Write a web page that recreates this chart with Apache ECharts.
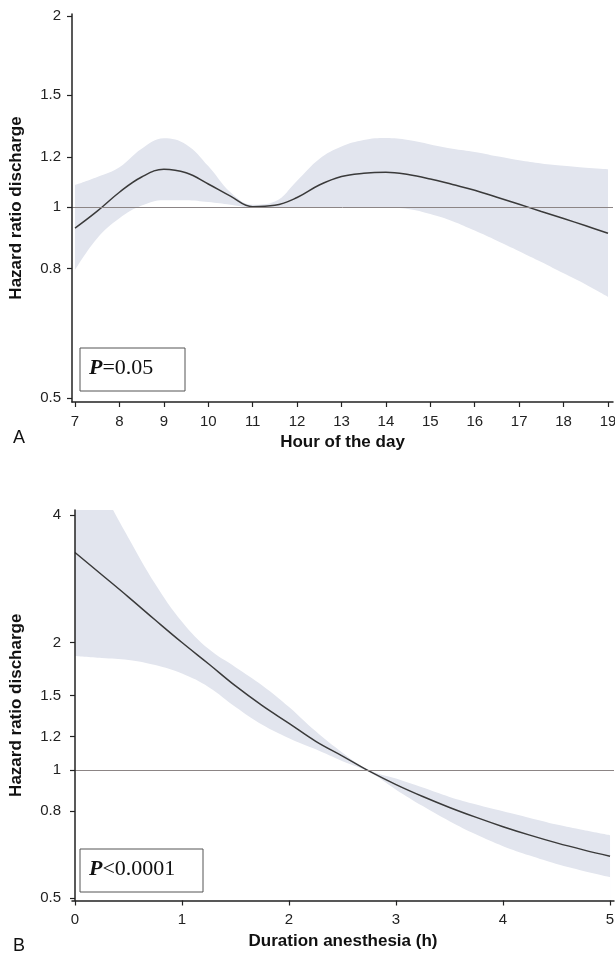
<!DOCTYPE html>
<html>
<head>
<meta charset="utf-8">
<script src="https://cdn.jsdelivr.net/npm/echarts@6/dist/echarts.min.js"></script>
<style>html,body{margin:0;padding:0;background:#fff}#chart{width:615px;height:957px}</style>
</head>
<body>
<div id="chart"></div>
<script>
// panel A - hour of the day
let hoursA = [7, 7.5, 8, 8.5, 9, 9.5, 10, 10.5, 11, 11.5, 12, 12.5, 13, 13.5, 14, 14.5, 15, 15.5, 16, 16.5, 17, 17.5, 18, 18.5, 19]
let hrA = [0.926, 0.985, 1.055, 1.115, 1.147, 1.132, 1.087, 1.04, 1.001, 1.006, 1.035, 1.083, 1.117, 1.13, 1.134, 1.125, 1.107, 1.085, 1.063, 1.036, 1.01, 0.984, 0.959, 0.934, 0.909]
let upA = [1.083, 1.115, 1.155, 1.235, 1.283, 1.255, 1.16, 1.055, 1.008, 1.02, 1.10, 1.19, 1.245, 1.275, 1.284, 1.275, 1.255, 1.235, 1.221, 1.202, 1.185, 1.171, 1.161, 1.153, 1.147]
let loA = [0.796, 0.893, 0.96, 1.005, 1.025, 1.025, 1.018, 1.008, 0.998, 0.999, 1.0, 1.0, 1.0, 0.999, 0.998, 0.993, 0.975, 0.95, 0.918, 0.885, 0.852, 0.819, 0.786, 0.755, 0.722]
// panel B - duration of anesthesia
let durB = [0, 0.25, 0.5, 0.75, 1, 1.25, 1.5, 1.75, 2, 2.25, 2.5, 2.75, 3, 3.25, 3.5, 3.75, 4, 4.25, 4.5, 4.75, 5]
let hrB = [3.26, 2.89, 2.56, 2.26, 2.0, 1.78, 1.58, 1.42, 1.29, 1.17, 1.08, 0.995, 0.925, 0.867, 0.817, 0.774, 0.736, 0.703, 0.674, 0.649, 0.627]
let upB = [6.0, 4.6, 3.53, 2.75, 2.24, 1.93, 1.75, 1.585, 1.41, 1.235, 1.10, 1.0, 0.956, 0.91, 0.865, 0.83, 0.80, 0.772, 0.745, 0.723, 0.703]
let loB = [1.86, 1.84, 1.82, 1.77, 1.69, 1.57, 1.41, 1.28, 1.19, 1.12, 1.05, 0.99, 0.90, 0.823, 0.758, 0.705, 0.662, 0.629, 0.601, 0.579, 0.56]

let yTicksA = [0.5, 0.8, 1, 1.2, 1.5, 2]
let yTicksB = [0.5, 0.8, 1, 1.2, 1.5, 2, 4]
let xTicksA = [7, 8, 9, 10, 11, 12, 13, 14, 15, 16, 17, 18, 19]
let xTicksB = [0, 1, 2, 3, 4, 5]

let bandColor = '#e2e5ee'
let axisColor = '#222'
let sans = 'Liberation Sans'

let pairs = (xs, ys) => xs.map((x, i) => [x, ys[i]])

function xAxisOf(grid, min, max, ticks, name) {
  return {
    type: 'value', gridIndex: grid, min: min, max: max,
    name: name, nameLocation: 'middle', nameGap: 32,
    nameTextStyle: {fontFamily: sans, fontWeight: 'bold', fontSize: 17, color: '#111'},
    axisLine: {show: true, onZero: false, lineStyle: {color: axisColor, width: 1.5}},
    axisTick: {show: true, length: 5, customValues: ticks, lineStyle: {color: axisColor, width: 1.2}},
    axisLabel: {customValues: ticks, margin: 12, fontFamily: sans, fontSize: 15, color: '#222'},
    splitLine: {show: false}, z: 5
  }
}

function yAxisOf(grid, min, max, ticks) {
  return {
    type: 'log', logBase: 2, gridIndex: grid, min: min, max: max,
    name: 'Hazard ratio discharge', nameLocation: 'middle', nameGap: 47, nameRotate: 90,
    nameTextStyle: {fontFamily: sans, fontWeight: 'bold', fontSize: 17, color: '#111'},
    axisLine: {show: true, lineStyle: {color: axisColor, width: 1.5}},
    axisTick: {show: true, length: 5, customValues: ticks, lineStyle: {color: axisColor, width: 1.2}},
    axisLabel: {customValues: ticks, margin: 11, fontFamily: sans, fontSize: 15, color: '#222',
      formatter: v => String(+(+v).toFixed(2))},
    splitLine: {show: false}, minorTick: {show: false}, z: 5
  }
}

function panelSeries(idx, xs, hr, up, lo) {
  return [
    {type: 'line', xAxisIndex: idx, yAxisIndex: idx, data: pairs(xs, up), smooth: 0.4, symbol: 'none',
      lineStyle: {width: 0}, areaStyle: {color: bandColor, opacity: 1, origin: 'start'}, z: 1, silent: true},
    {type: 'line', xAxisIndex: idx, yAxisIndex: idx, data: pairs(xs, lo), smooth: 0.4, symbol: 'none',
      lineStyle: {width: 0}, areaStyle: {color: '#fff', opacity: 1, origin: 'start'}, z: 2, silent: true},
    {type: 'line', xAxisIndex: idx, yAxisIndex: idx, data: pairs(xs, hr), smooth: 0.4, symbol: 'none',
      lineStyle: {color: '#3a3a3a', width: 1.5}, z: 3, silent: true,
      markLine: {silent: true, symbol: 'none', label: {show: false},
        lineStyle: {color: '#8c8585', width: 1, type: 'solid'}, data: [{yAxis: 1}]}}
  ]
}

let myChart = echarts.init(document.getElementById('chart'), null, {renderer: 'canvas'})
let pRich = {
  p: {fontFamily: 'Liberation Serif', fontStyle: 'italic', fontWeight: 'bold', fontSize: 22, fill: '#111'},
  n: {fontFamily: 'Liberation Serif', fontSize: 22, fill: '#111'}
}
let option = {
  animation: false,
  backgroundColor: '#fff',
  grid: [
    {left: 72, right: 2, top: 14, height: 388, containLabel: false, outerBoundsMode: 'none'},
    {left: 72, right: 1, top: 510, height: 390.5, containLabel: false, outerBoundsMode: 'none'}
  ],
  xAxis: [
    xAxisOf(0, 6.932, 19.113, xTicksA, 'Hour of the day'),
    xAxisOf(1, -0.028, 5.037, xTicksB, 'Duration anesthesia (h)')
  ],
  yAxis: [
    yAxisOf(0, 0.4928, 2.0145, yTicksA),
    yAxisOf(1, 0.493, 4.107, yTicksB)
  ],
  series: [].concat(panelSeries(0, hoursA, hrA, upA, loA), panelSeries(1, durB, hrB, upB, loB)),
  graphic: [
    {type: 'text', left: 13, top: 429, style: {text: 'A', font: '18px "Liberation Sans"', fill: '#111'}},
    {type: 'text', left: 13, top: 937, style: {text: 'B', font: '18px "Liberation Sans"', fill: '#111'}},
    {type: 'rect', shape: {x: 80, y: 348, width: 105, height: 43}, style: {fill: '#fff', stroke: '#555', lineWidth: 1}, z: 10},
    {type: 'text', left: 89, top: 357, z: 11, style: {text: '{p|P}{n|=0.05}', rich: pRich}},
    {type: 'rect', shape: {x: 80, y: 849, width: 123, height: 43}, style: {fill: '#fff', stroke: '#555', lineWidth: 1}, z: 10},
    {type: 'text', left: 89, top: 858, z: 11, style: {text: '{p|P}{n|<0.0001}', rich: pRich}}
  ]
}
myChart.setOption(option)
</script>
</body>
</html>
